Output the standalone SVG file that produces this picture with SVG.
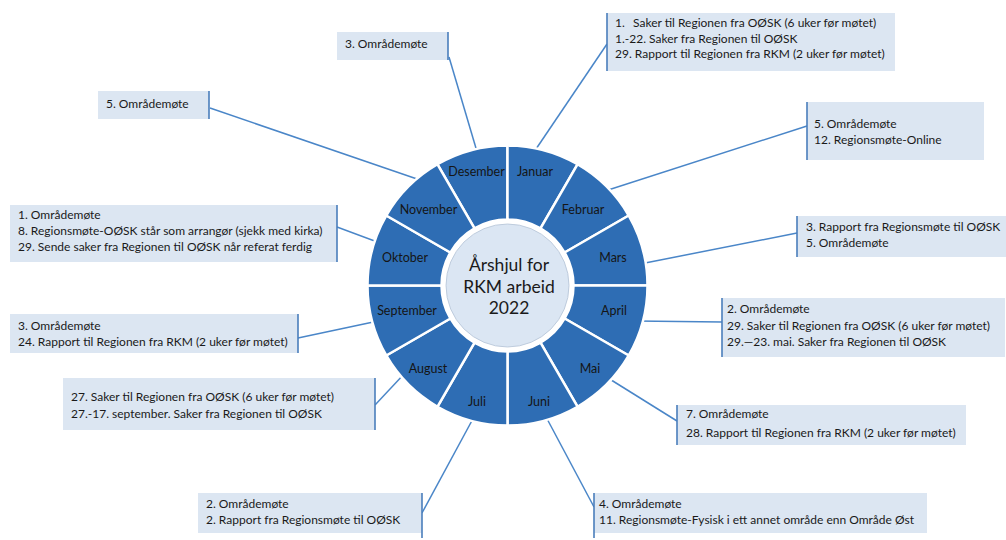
<svg xmlns="http://www.w3.org/2000/svg" width="1006" height="540" viewBox="0 0 1006 540">
<style>
.seg{fill:#2e6db4;stroke:#fff;stroke-width:2.5;stroke-linejoin:round}
.mlab{font-family:Lato,"Liberation Sans",sans-serif;font-size:12.5px;fill:#151515;text-anchor:middle;dominant-baseline:central}
.box{fill:#dce6f2}
.side{stroke:#4a7ebb;stroke-width:1.6}
.conn{stroke:#4a86c8;stroke-width:1.5;fill:none}
.t{font-family:Lato,"Liberation Sans",sans-serif;font-size:12px;fill:#1a1a1a}
.ctr{font-family:Lato,"Liberation Sans",sans-serif;font-size:17.5px;fill:#1a1a1a;text-anchor:middle}
</style>
<rect width="1006" height="540" fill="#fff"/>
<g id="connectors">
<line class="conn" x1="449" y1="57" x2="478" y2="155"/>
<line class="conn" x1="210" y1="108" x2="420" y2="180"/>
<line class="conn" x1="607" y1="44" x2="534" y2="152"/>
<line class="conn" x1="807" y1="126" x2="605" y2="191"/>
<line class="conn" x1="797" y1="233" x2="640" y2="264"/>
<line class="conn" x1="722" y1="322" x2="635" y2="321"/>
<line class="conn" x1="677" y1="421" x2="608" y2="378"/>
<line class="conn" x1="594" y1="507" x2="545" y2="415"/>
<line class="conn" x1="422" y1="513" x2="475" y2="415"/>
<line class="conn" x1="375" y1="405" x2="405" y2="373"/>
<line class="conn" x1="298" y1="338" x2="378" y2="321"/>
<line class="conn" x1="337" y1="227" x2="380" y2="243"/>
</g>
<g id="wheel">
<g id="m-desember"><path class="seg" d="M437.5 164.26A140 140 0 0 1 507.5 145.5L507.5 219.5A66 66 0 0 0 474.5 228.34Z"/><text class="mlab" x="476.5" y="171.5">Desember</text></g>
<g id="m-januar"><path class="seg" d="M507.5 145.5A140 140 0 0 1 577.5 164.26L540.5 228.34A66 66 0 0 0 507.5 219.5Z"/><text class="mlab" x="535" y="171.5">Januar</text></g>
<g id="m-februar"><path class="seg" d="M577.5 164.26A140 140 0 0 1 628.74 215.5L564.66 252.5A66 66 0 0 0 540.5 228.34Z"/><text class="mlab" x="583" y="209">Februar</text></g>
<g id="m-mars"><path class="seg" d="M628.74 215.5A140 140 0 0 1 647.5 285.5L573.5 285.5A66 66 0 0 0 564.66 252.5Z"/><text class="mlab" x="613" y="257.5">Mars</text></g>
<g id="m-april"><path class="seg" d="M647.5 285.5A140 140 0 0 1 628.74 355.5L564.66 318.5A66 66 0 0 0 573.5 285.5Z"/><text class="mlab" x="614" y="310.5">April</text></g>
<g id="m-mai"><path class="seg" d="M628.74 355.5A140 140 0 0 1 577.5 406.74L540.5 342.66A66 66 0 0 0 564.66 318.5Z"/><text class="mlab" x="590" y="368.5">Mai</text></g>
<g id="m-juni"><path class="seg" d="M577.5 406.74A140 140 0 0 1 507.5 425.5L507.5 351.5A66 66 0 0 0 540.5 342.66Z"/><text class="mlab" x="539" y="401.5">Juni</text></g>
<g id="m-juli"><path class="seg" d="M507.5 425.5A140 140 0 0 1 437.5 406.74L474.5 342.66A66 66 0 0 0 507.5 351.5Z"/><text class="mlab" x="477" y="401.5">Juli</text></g>
<g id="m-august"><path class="seg" d="M437.5 406.74A140 140 0 0 1 386.26 355.5L450.34 318.5A66 66 0 0 0 474.5 342.66Z"/><text class="mlab" x="428" y="368.5">August</text></g>
<g id="m-september"><path class="seg" d="M386.26 355.5A140 140 0 0 1 367.5 285.5L441.5 285.5A66 66 0 0 0 450.34 318.5Z"/><text class="mlab" x="407" y="310.5">September</text></g>
<g id="m-oktober"><path class="seg" d="M367.5 285.5A140 140 0 0 1 386.26 215.5L450.34 252.5A66 66 0 0 0 441.5 285.5Z"/><text class="mlab" x="405" y="257.5">Oktober</text></g>
<g id="m-november"><path class="seg" d="M386.26 215.5A140 140 0 0 1 437.5 164.26L474.5 228.34A66 66 0 0 0 450.34 252.5Z"/><text class="mlab" x="428.5" y="209">November</text></g>
<g id="center">
<circle cx="507.5" cy="285.5" r="66" fill="#fff"/>
<circle cx="507.5" cy="285.5" r="61.5" fill="#dbe6f3" stroke="#b4c3d6" stroke-width="0.8"/>
<text class="ctr" x="509" y="271">Årshjul for</text>
<text class="ctr" x="509" y="292.5">RKM arbeid</text>
<text class="ctr" x="509" y="314">2022</text>
</g>
</g>
<g id="box-desember"><rect class="box" x="337" y="32" width="111" height="28"/><line class="side" x1="448" y1="32" x2="448" y2="60"/><text class="t" x="345" y="47.5">3. Områdemøte</text></g>
<g id="box-november"><rect class="box" x="98" y="91" width="111" height="28"/><line class="side" x1="209" y1="91" x2="209" y2="119"/><text class="t" x="106" y="107.5">5. Områdemøte</text></g>
<g id="box-januar"><rect class="box" x="607" y="13" width="288" height="58"/><line class="side" x1="607" y1="13" x2="607" y2="71"/>
<text class="t" x="615" y="27">1.<tspan x="633">Saker til Regionen fra OØSK (6 uker før møtet)</tspan></text>
<text class="t" x="615" y="43">1.-22. Saker fra Regionen til OØSK</text>
<text class="t" x="615" y="58">29. Rapport til Regionen fra RKM (2 uker før møtet)</text></g>
<g id="box-februar"><rect class="box" x="807" y="102" width="177" height="58"/><line class="side" x1="807" y1="102" x2="807" y2="160"/>
<text class="t" x="814" y="128">5. Områdemøte</text>
<text class="t" x="814" y="144">12. Regionsmøte-Online</text></g>
<g id="box-mars"><rect class="box" x="797" y="216" width="209" height="41"/><line class="side" x1="797" y1="216" x2="797" y2="257"/>
<text class="t" x="806" y="231">3. Rapport fra Regionsmøte til OØSK</text>
<text class="t" x="806" y="246.5">5. Områdemøte</text></g>
<g id="box-april"><rect class="box" x="722" y="298" width="283" height="59"/><line class="side" x1="722" y1="298" x2="722" y2="357"/>
<text class="t" x="727" y="313">2. Områdemøte</text>
<text class="t" x="727" y="330">29. Saker til Regionen fra OØSK (6 uker før møtet)</text>
<text class="t" x="727" y="346">29.—23. mai. Saker fra Regionen til OØSK</text></g>
<g id="box-mai"><rect class="box" x="677" y="405" width="289" height="40"/><line class="side" x1="677" y1="405" x2="677" y2="445"/>
<text class="t" x="686" y="418">7. Områdemøte</text>
<text class="t" x="686" y="436.5">28. Rapport til Regionen fra RKM (2 uker før møtet)</text></g>
<g id="box-juni"><rect class="box" x="594" y="493" width="333" height="40"/><line class="side" x1="594" y1="493" x2="594" y2="538"/>
<text class="t" x="599" y="507.5">4. Områdemøte</text>
<text class="t" x="599" y="524">11. Regionsmøte-Fysisk i ett annet område enn Område Øst</text></g>
<g id="box-juli"><rect class="box" x="198" y="493" width="224" height="40"/><line class="side" x1="422" y1="493" x2="422" y2="538"/>
<text class="t" x="206" y="507.5">2. Områdemøte</text>
<text class="t" x="206" y="524">2. Rapport fra Regionsmøte til OØSK</text></g>
<g id="box-august"><rect class="box" x="63" y="378" width="312" height="52"/><line class="side" x1="375" y1="378" x2="375" y2="430"/>
<text class="t" x="71" y="401">27. Saker til Regionen fra OØSK (6 uker før møtet)</text>
<text class="t" x="71" y="418">27.-17. september. Saker fra Regionen til OØSK</text></g>
<g id="box-september"><rect class="box" x="10" y="314" width="288" height="39"/><line class="side" x1="298" y1="314" x2="298" y2="353"/>
<text class="t" x="18" y="330">3. Områdemøte</text>
<text class="t" x="18" y="346">24. Rapport til Regionen fra RKM (2 uker før møtet)</text></g>
<g id="box-oktober"><rect class="box" x="10" y="205" width="327" height="57"/><line class="side" x1="337" y1="205" x2="337" y2="262"/>
<text class="t" x="18" y="219">1. Områdemøte</text>
<text class="t" x="18" y="235">8. Regionsmøte-OØSK står som arrangør (sjekk med kirka)</text>
<text class="t" x="18" y="251">29. Sende saker fra Regionen til OØSK når referat ferdig</text></g>
</svg>
